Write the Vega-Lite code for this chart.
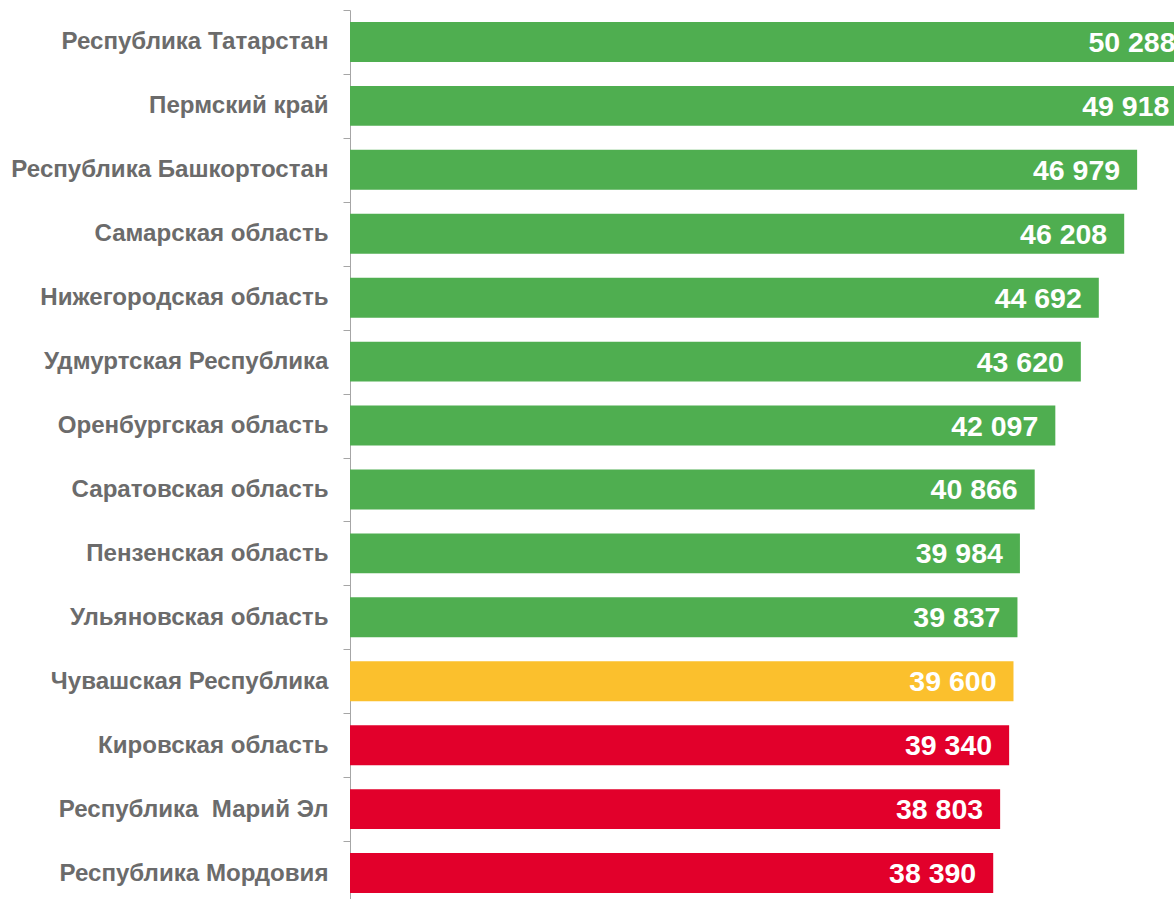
{
  "$schema": "https://vega.github.io/schema/vega-lite/v6.json",
  "autosize": {"type": "none"},
  "padding": {"left": 350, "top": 10, "right": 0, "bottom": 0},
  "width": 824,
  "height": 889,
  "background": "white",
  "config": {
    "view": {"stroke": null},
    "locale": {"number": {"decimal": ",", "thousands": " ", "grouping": [3], "currency": ["", ""]}},
    "font": "Liberation Sans"
  },
  "data": {
    "values": [
      {"region": "Республика Татарстан", "value": 50288, "group": "above"},
      {"region": "Пермский край", "value": 49918, "group": "above"},
      {"region": "Республика Башкортостан", "value": 46979, "group": "above"},
      {"region": "Самарская область", "value": 46208, "group": "above"},
      {"region": "Нижегородская область", "value": 44692, "group": "above"},
      {"region": "Удмуртская Республика", "value": 43620, "group": "above"},
      {"region": "Оренбургская область", "value": 42097, "group": "above"},
      {"region": "Саратовская область", "value": 40866, "group": "above"},
      {"region": "Пензенская область", "value": 39984, "group": "above"},
      {"region": "Ульяновская область", "value": 39837, "group": "above"},
      {"region": "Чувашская Республика", "value": 39600, "group": "self"},
      {"region": "Кировская область", "value": 39340, "group": "below"},
      {"region": "Республика\u00a0 Марий Эл", "value": 38803, "group": "below"},
      {"region": "Республика Мордовия", "value": 38390, "group": "below"}
    ]
  },
  "encoding": {
    "y": {
      "field": "region",
      "type": "nominal",
      "sort": null,
      "scale": {"range": [0, 895], "paddingInner": 0, "paddingOuter": 0},
      "axis": {
        "title": null,
        "tickBand": "extent",
        "tickSize": 7,
        "tickColor": "#A6A6A6",
        "domainColor": "#A6A6A6",
        "labelFontSize": 24.1,
        "labelFontWeight": "bold",
        "labelColor": "#6B6B6B",
        "labelPadding": 15,
        "labelFont": "Liberation Sans",
        "labelLimit": 400
      }
    },
    "x": {
      "field": "value",
      "type": "quantitative",
      "scale": {"domain": [0, 49180], "nice": false, "zero": true},
      "axis": null
    }
  },
  "layer": [
    {
      "mark": {"type": "bar", "height": {"band": 0.625}, "clip": true},
      "encoding": {
        "color": {
          "field": "group",
          "type": "nominal",
          "scale": {"domain": ["above", "self", "below"], "range": ["#4FAE50", "#FBC02D", "#E2002B"]},
          "legend": null
        }
      }
    },
    {
      "mark": {"type": "text", "align": "right", "baseline": "middle", "dx": -17, "dy": 1, "fontSize": 28.5, "fontWeight": "bold", "color": "white", "clip": true, "font": "Liberation Sans"},
      "encoding": {
        "text": {"field": "value", "type": "quantitative", "format": ",d"}
      }
    }
  ]
}
